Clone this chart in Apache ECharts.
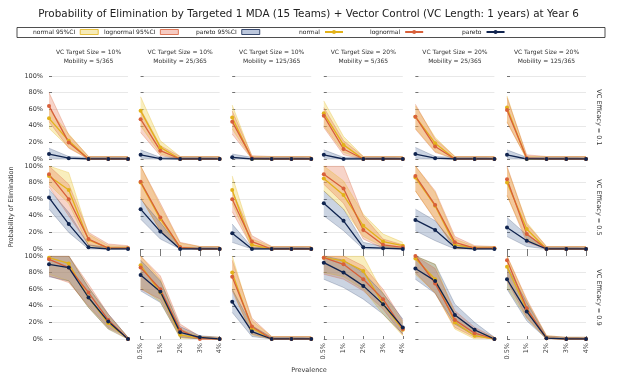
<!DOCTYPE html>
<html>
<head>
<meta charset="utf-8">
<script src="https://cdn.jsdelivr.net/npm/echarts@6/dist/echarts.min.js"></script>
<style>
html, body { margin: 0; padding: 0; background: #fff; }
#chart { width: 617px; height: 385px; }
</style>
</head>
<body>
<div id="chart"></div>
<script>
// x categories
var prevalence = ['0.5%', '1%', '2%', '3%', '4%'];
var targetSizes = ['10%', '10%', '10%', '20%', '20%', '20%'];
var mobilities = ['5/365', '25/365', '125/365', '5/365', '25/365', '125/365'];
var efficacies = ['0.1', '0.5', '0.9'];

// panels row by row (VC efficacy 0.1, 0.5, 0.9), columns left to right
var normalMean = [
  [49,22,0,0,0],[58,14,0,0,0],[50,0,0,0,0],[55,17,0,0,0],[51,19,0,0,0],[62,0,0,0,0],
  [88,71,11,1,1],[80,36,2,0,0],[71,5,0,0,0],[85,65,28,9,4],[86,52,5,1,1],[80,24,0,0,0],
  [98,91,50,19,0],[89,56,5,1,0],[80,13,0,0,0],[98,94,82,42,11],[97,72,20,4,0],[87,35,1,0,0]
];
var normalLo = [
  [37,14,0,0,0],[40,6,0,0,0],[36,0,0,0,0],[40,8,0,0,0],[37,9,0,0,0],[45,0,0,0,0],
  [78,55,4,0,0],[62,22,0,0,0],[55,1,0,0,0],[70,48,15,3,0],[70,36,1,0,0],[64,12,0,0,0],
  [78,70,38,12,0],[62,45,1,0,0],[60,5,0,0,0],[80,75,60,30,4],[78,56,12,0,0],[62,25,0,0,0]
];
var normalHi = [
  [60,30,3,3,3],[75,22,3,3,3],[65,3,3,3,3],[70,27,3,3,3],[64,26,3,3,3],[76,3,3,3,3],
  [100,92,18,4,3],[100,52,7,3,3],[88,12,3,3,3],[100,82,42,18,8],[100,68,12,3,3],[98,32,3,3,3],
  [100,100,62,28,2],[100,72,12,3,2],[100,22,3,3,3],[100,100,100,55,20],[100,90,30,10,2],[100,46,4,2,2]
];
var lognormalMean = [
  [64,20,0,0,0],[48,10,0,0,0],[45,1,0,0,0],[52,12,0,0,0],[51,15,0,0,0],[59,1,0,0,0],
  [90,60,12,1,1],[81,38,2,0,0],[60,9,0,0,0],[90,73,23,5,2],[88,53,8,1,1],[84,18,0,0,0],
  [96,86,56,23,0],[86,60,11,0,0],[75,15,0,0,0],[98,90,72,48,12],[100,67,23,7,0],[95,37,1,0,0]
];
var lognormalLo = [
  [45,13,0,0,0],[32,4,0,0,0],[30,0,0,0,0],[38,5,0,0,0],[36,8,0,0,0],[44,0,0,0,0],
  [75,40,5,0,0],[62,22,0,0,0],[45,2,0,0,0],[78,55,12,1,0],[70,35,1,0,0],[65,8,0,0,0],
  [76,68,40,14,0],[60,48,3,0,0],[58,6,0,0,0],[78,72,58,36,5],[80,55,14,2,0],[70,26,0,0,0]
];
var lognormalHi = [
  [80,29,3,3,3],[60,16,3,3,3],[58,4,3,3,3],[62,22,3,3,3],[66,24,3,3,3],[74,5,3,3,3],
  [100,78,20,6,4],[100,55,8,3,3],[70,16,3,3,3],[100,100,40,12,5],[100,70,15,4,3],[100,30,3,3,3],
  [100,100,66,30,2],[100,76,18,3,2],[95,25,3,3,3],[100,100,88,60,22],[100,85,34,14,2],[100,48,4,2,2]
];
var paretoMean = [
  [6,1,0,0,0],[5,0.5,0,0,0],[2,0,0,0,0],[5,0,0,0,0],[6,1,0,0,0],[5,0,0,0,0],
  [62,30,2,0,0],[48,21,0,0,0],[19,0,0,0,0],[55,34,2,1,0],[35,23,2,0,0],[26,10,0,0,0],
  [90,86,50,21,0],[77,57,8,2,0],[45,9,0,0,0],[92,80,64,42,14],[85,70,29,11,0],[72,33,1,0,0]
];
var paretoLo = [
  [1,0,0,0,0],[1,0,0,0,0],[0,0,0,0,0],[1,0,0,0,0],[1,0,0,0,0],[1,0,0,0,0],
  [48,20,0,0,0],[36,12,0,0,0],[8,0,0,0,0],[40,22,0,0,0],[22,10,0,0,0],[15,3,0,0,0],
  [75,70,38,12,0],[58,44,2,0,0],[32,3,0,0,0],[72,62,48,30,6],[72,55,18,4,0],[60,22,0,0,0]
];
var paretoHi = [
  [13,3,2,2,2],[11,2,2,2,2],[6,2,2,2,2],[11,2,2,2,2],[14,3,2,2,2],[11,2,2,2,2],
  [72,44,5,2,2],[60,32,2,2,2],[30,2,2,2,2],[70,48,8,3,2],[48,34,5,2,2],[38,17,2,2,2],
  [100,100,62,30,2],[95,70,15,4,2],[60,16,2,2,2],[100,95,80,55,24],[100,90,42,20,2],[88,44,3,2,2]
];

var chart = echarts.init(document.getElementById('chart'));
var FONT = 'DejaVu Sans';

var dists = [
  {name: 'normal', mean: normalMean, lo: normalLo, hi: normalHi,
   line: '#e2b21a', fill: 'rgba(240,212,90,0.4)', edge: 'rgba(226,178,26,0.5)', box: '#f6ebb8'},
  {name: 'lognormal', mean: lognormalMean, lo: lognormalLo, hi: lognormalHi,
   line: '#d8603a', fill: 'rgba(230,125,92,0.33)', edge: 'rgba(216,96,58,0.5)', box: '#f6cbc2'},
  {name: 'pareto', mean: paretoMean, lo: paretoLo, hi: paretoHi,
   line: '#10244f', fill: 'rgba(70,100,150,0.28)', edge: 'rgba(16,36,79,0.35)', box: '#bcc7dc'}
];

var grids = [], xAxes = [], yAxes = [], series = [];
var colLeft = 49, colStep = 91.6, rowTop = 76, rowStep = 90;

for (var p = 0; p < 18; p++) {
  var r = Math.floor(p / 6), c = p % 6;
  var labelled = (r == 2 && c % 2 == 1);
  grids.push({left: colLeft + c * colStep, top: rowTop + r * rowStep, width: 79, height: 83});
  xAxes.push({
    gridIndex: p, type: 'category', boundaryGap: false, data: prevalence,
    axisLine: {show: false},
    axisTick: {show: c % 2 == 1 && r > 0, inside: r == 2, length: r == 2 ? 3 : 7,
               lineStyle: {color: '#555', width: 0.8}},
    axisLabel: {show: labelled, rotate: 90, fontSize: 6.5, color: '#444', margin: 4, fontFamily: FONT},
    splitLine: {show: false}
  });
  yAxes.push({
    gridIndex: p, type: 'value', min: 0, max: 100, interval: 20,
    axisLine: {show: false},
    axisTick: {show: true, inside: true, length: 3, lineStyle: {color: '#555', width: 0.8}},
    axisLabel: {show: c == 0, formatter: '{value}%', fontSize: 6.5, color: '#333', margin: 6, fontFamily: FONT},
    splitLine: {lineStyle: {color: '#e2e2e2', width: 0.8}}
  });

  dists.forEach(function (d) {
    var lo = d.lo[p], hi = d.hi[p];
    var width = hi.map(function (v, i) { return v - lo[i]; });
    series.push({
      type: 'line', name: d.name + ' low', xAxisIndex: p, yAxisIndex: p,
      stack: 'ci' + p + d.name, data: lo, symbol: 'none', silent: true, z: 2,
      lineStyle: {color: d.edge, width: 0.6}
    });
    series.push({
      type: 'line', name: d.name + ' 95%CI', xAxisIndex: p, yAxisIndex: p,
      stack: 'ci' + p + d.name, data: width, symbol: 'none', silent: true, z: 2,
      itemStyle: {color: d.box},
      lineStyle: {color: d.edge, width: 0.6},
      areaStyle: {color: d.fill, opacity: 1}
    });
  });
  dists.forEach(function (d) {
    series.push({
      type: 'line', name: d.name, xAxisIndex: p, yAxisIndex: p,
      data: d.mean[p], symbol: 'circle', symbolSize: 4, z: 4,
      itemStyle: {color: d.line}, lineStyle: {color: d.line, width: 1.3}
    });
  });
}

// legend entries, laid out across the framed box
var legendNames = ['normal 95%CI', 'lognormal 95%CI', 'pareto 95%CI', 'normal', 'lognormal', 'pareto'];
var legendLeft = [33, 104, 196, 299, 370, 462];
var legends = legendNames.map(function (n, i) {
  var d = dists[i % 3];
  var item = {name: n};
  if (i < 3) {
    item.icon = 'rect';
    item.itemStyle = {color: d.box, borderColor: d.line, borderWidth: 0.8};
  }
  return {
    data: [item], left: legendLeft[i], top: 29, padding: 0, align: 'right',
    itemWidth: 18, itemHeight: 5, itemGap: 4, selectedMode: false,
    textStyle: {fontSize: 6, color: '#222', fontFamily: FONT, padding: [0, 0, 0, 0]}
  };
});

var graphics = [{
  type: 'rect', shape: {x: 17, y: 27.5, width: 588, height: 10},
  style: {fill: 'none', stroke: '#222', lineWidth: 0.8}, silent: true
}];
for (var c = 0; c < 6; c++) {
  graphics.push({
    type: 'text', x: colLeft + c * colStep + 39.5, y: 48,
    style: {text: 'VC Target Size = ' + targetSizes[c] + '\nMobility = ' + mobilities[c],
            fill: '#333', font: '6px "DejaVu Sans"', align: 'center', lineHeight: 9}
  });
}
for (var r = 0; r < 3; r++) {
  graphics.push({
    type: 'text', x: 599, y: rowTop + r * rowStep + 41.5, rotation: -Math.PI / 2,
    style: {text: 'VC Efficacy = ' + efficacies[r], fill: '#333', font: '6.5px "DejaVu Sans"',
            align: 'center', verticalAlign: 'middle'}
  });
}
graphics.push({
  type: 'text', x: 11, y: 207, rotation: Math.PI / 2,
  style: {text: 'Probability of Elimination', fill: '#333', font: '6.5px "DejaVu Sans"',
          align: 'center', verticalAlign: 'middle'}
});
graphics.push({
  type: 'text', x: 309, y: 370,
  style: {text: 'Prevalence', fill: '#333', font: '6.5px "DejaVu Sans"',
          align: 'center', verticalAlign: 'middle'}
});

var option = {
  animation: false,
  title: {
    text: 'Probability of Elimination by Targeted 1 MDA (15 Teams) + Vector Control (VC Length: 1 years) at Year 6',
    left: 'center', top: 4,
    textStyle: {fontSize: 10.4, fontWeight: 'normal', color: '#222', fontFamily: FONT}
  },
  legend: legends,
  grid: grids,
  xAxis: xAxes,
  yAxis: yAxes,
  series: series,
  graphic: graphics
};

chart.setOption(option);
</script>
</body>
</html>
